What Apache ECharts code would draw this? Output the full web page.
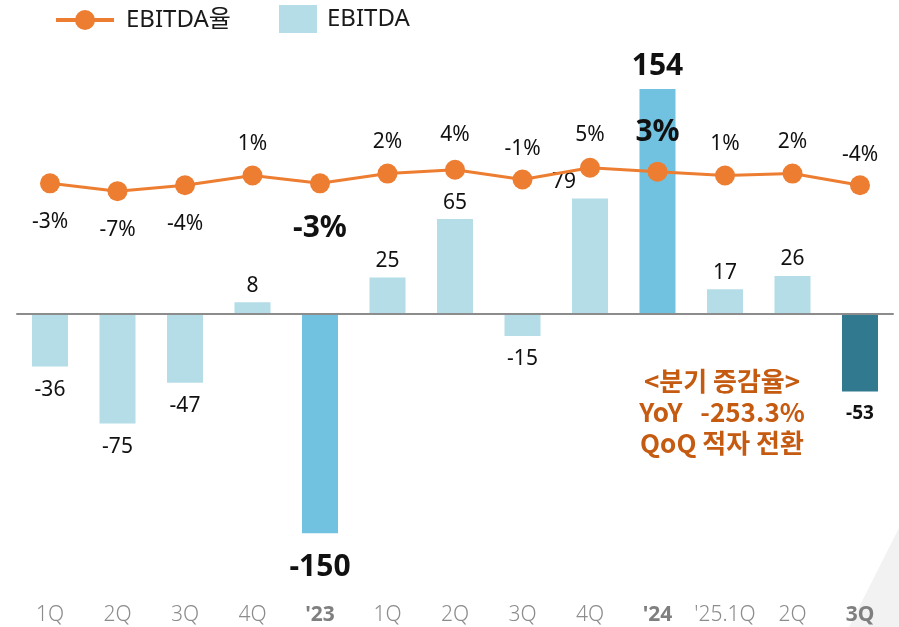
<!DOCTYPE html>
<html>
<head>
<meta charset="utf-8">
<script src="https://cdn.jsdelivr.net/npm/echarts@6/dist/echarts.min.js"></script>
<style>
html, body { margin: 0; padding: 0; background: #fff; }
#main { width: 899px; height: 627px; }
</style>
</head>
<body>
<div id="main"></div>
<script>
var categories = ['1Q', '2Q', '3Q', '4Q', "'23", '1Q', '2Q', '3Q', '4Q', "'24", "'25.1Q", '2Q', '3Q'];
var ebitda = [-36, -75, -47, 8, -150, 25, 65, -15, 79, 154, 17, 26, -53];
var ebitdaRate = [-3, -7, -4, 1, -3, 2, 4, -1, 5, 3, 1, 2, -4];
var boldCats = [4, 9, 12];

var dom = document.getElementById('main');
var chart = echarts.init(dom);

var font = "'Noto Sans', 'Noto Sans CJK KR', sans-serif";
var lightBar = '#B4DDE7', yearBar = '#71C2E0', lastBar = '#31798F';

// rate labels that sit under the point
var rateBelow = [0, 1, 2, 4];
var rateDist = [18, 18, 18, 11, 20, 11, 14, 10, 12, 14, 11, 11, 10];

var barData = ebitda.map(function (v, i) {
    var color = lightBar;
    if (i === 4 || i === 9) color = yearBar;
    if (i === 12) color = lastBar;
    var big = (i === 4 || i === 9);
    var lab = {
        position: v >= 0 ? 'top' : 'bottom',
        distance: v >= 0 ? 6 : 13,
        fontSize: big ? 30 : (i === 12 ? 19 : 21),
        fontWeight: (big || i === 12) ? 'bold' : 'normal'
    };
    if (big) lab.distance = v >= 0 ? 8 : 19;
    if (i === 12) lab.distance = 13;
    if (i === 8) lab.offset = [-26, 0];
    return { value: v, itemStyle: { color: color }, label: lab };
});

var lineData = ebitdaRate.map(function (v, i) {
    var big = (i === 4 || i === 9);
    var below = rateBelow.indexOf(i) >= 0;
    return {
        value: v,
        label: {
            position: below ? 'bottom' : 'top',
            distance: rateDist[i],
            fontSize: big ? 30 : 21,
            fontWeight: big ? 'bold' : 'normal'
        }
    };
});

var xData = categories.map(function (c, i) {
    var b = boldCats.indexOf(i) >= 0;
    return { value: c, textStyle: { fontWeight: b ? 'bold' : 300, color: b ? '#7F7F7F' : '#8C8C8C' } };
});

var option = {
    animation: false,
    textStyle: { fontFamily: font },
    legend: [{
        left: 54, top: 8, padding: 0,
        itemWidth: 58, itemHeight: 25,
        lineStyle: { width: 4 },
        data: ['EBITDA율'],
        textStyle: { fontSize: 24, color: '#1a1a1a', fontFamily: font, padding: [0, 0, 0, 7] }
    }, {
        left: 279, top: 5, padding: 0,
        itemWidth: 38, itemHeight: 28,
        data: [{ name: 'EBITDA', icon: 'rect' }],
        textStyle: { fontSize: 24, color: '#1a1a1a', fontFamily: font, padding: [0, 0, 0, 5] }
    }],
    grid: { left: 16.25, right: 5.25, top: 40, bottom: 67 },
    xAxis: {
        type: 'category',
        data: xData,
        axisLine: { show: false },
        axisTick: { show: false },
        axisLabel: { margin: 45, fontSize: 21, fontFamily: font, interval: 0 }
    },
    yAxis: [{
        type: 'value', min: -168.38, max: 187.54, show: false, splitLine: { show: false }
    }, {
        type: 'value', min: -196.15, max: 70.51, show: false, splitLine: { show: false }
    }],
    graphic: [{
        type: 'polygon',
        z: -10,
        shape: { points: [[899, 528], [899, 627], [849, 627]] },
        style: { fill: '#F2F2F2' }
    }, {
        type: 'text',
        x: 722, y: 366,
        style: {
            text: '<분기 증감율>\nYoY   -253.3%\nQoQ 적자 전환',
            textAlign: 'center',
            textVerticalAlign: 'top',
            fill: '#C55A11',
            font: "bold 26px 'Noto Sans CJK KR', 'Noto Sans', sans-serif",
            lineHeight: 31
        }
    }],
    series: [{
        name: 'EBITDA',
        type: 'bar',
        barWidth: 36,
        itemStyle: { color: lightBar },
        label: { show: true, color: '#111', fontFamily: font },
        data: barData,
        markLine: {
            silent: true,
            symbol: 'none',
            label: { show: false },
            lineStyle: { color: '#8C8C8C', width: 2, type: 'solid' },
            data: [{ yAxis: 0 }]
        }
    }, {
        name: 'EBITDA율',
        type: 'line',
        yAxisIndex: 1,
        z: 5,
        symbol: 'circle',
        symbolSize: 20,
        color: '#ED7D31',
        lineStyle: { width: 3, color: '#ED7D31' },
        label: {
            show: true, color: '#111', fontFamily: font,
            formatter: function (p) { return p.value + '%'; }
        },
        data: lineData
    }]
};

chart.setOption(option);
</script>
</body>
</html>
